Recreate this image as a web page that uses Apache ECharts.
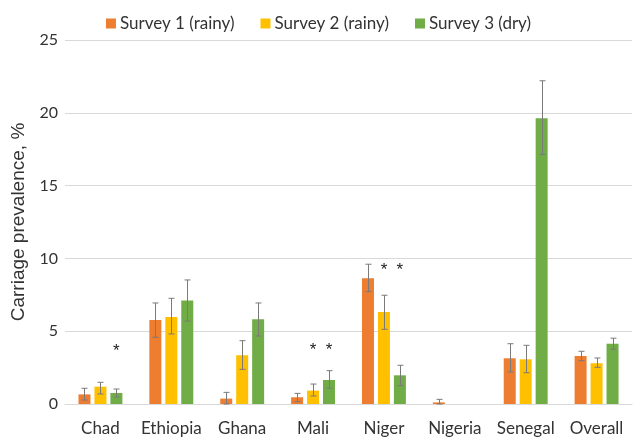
<!DOCTYPE html>
<html>
<head>
<meta charset="utf-8">
<script src="https://cdn.jsdelivr.net/npm/echarts@6/dist/echarts.min.js"></script>
<style>
html,body{margin:0;padding:0;background:#fff;}
#chart{width:637px;height:439px;}
</style>
</head>
<body>
<div id="chart"></div>
<script>
const categories = ['Chad','Ethiopia','Ghana','Mali','Niger','Nigeria','Senegal','Overall'];
const seriesNames = ['Survey 1 (rainy)','Survey 2 (rainy)','Survey 3 (dry)'];
const yTicks = [0,5,10,15,20,25];

const survey1 = [0.66, 5.77, 0.37, 0.46, 8.64, 0.11, 3.14, 3.30];
const survey1Low = [0.27, 4.58, 0.00, 0.16, 7.72, 0.00, 2.20, 2.98];
const survey1High = [1.08, 6.94, 0.80, 0.73, 9.60, 0.32, 4.14, 3.62];

const survey2 = [1.19, 5.98, 3.35, 0.92, 6.32, null, 3.07, 2.80];
const survey2Low = [0.69, 4.81, 2.38, 0.55, 5.13, null, 2.15, 2.52];
const survey2High = [1.49, 7.26, 4.35, 1.37, 7.47, null, 4.03, 3.16];

const survey3 = [0.76, 7.10, 5.82, 1.65, 1.97, null, 19.63, 4.14];
const survey3Low = [0.48, 5.70, 4.67, 1.08, 1.26, null, 17.13, 3.76];
const survey3High = [1.03, 8.52, 6.94, 2.29, 2.66, null, 22.20, 4.52];

// significance markers (value level at which the asterisk sits)
const survey1Star = [null, null, null, null, null, null, null, null];
const survey2Star = [null, null, null, 3.9, 9.4, null, null, null];
const survey3Star = [3.8, null, null, 3.9, 9.4, null, null, null];

const colors = ['#ED7D31','#FFC000','#70AD47'];
const BAR_W = 12;
const BAR_GAP = 0.33;
const values = [survey1, survey2, survey3];
const lows = [survey1Low, survey2Low, survey3Low];
const highs = [survey1High, survey2High, survey3High];
const stars = [survey1Star, survey2Star, survey3Star];

function offsetFor(idx){
  const pitch = BAR_W * (1 + BAR_GAP);
  return (idx - 1) * pitch;
}

const chart = echarts.init(document.getElementById('chart'));
const series = [];
values.forEach((v, idx) => {
  series.push({
    name: seriesNames[idx],
    type: 'bar',
    data: v,
    barWidth: BAR_W,
    barGap: (BAR_GAP*100) + '%',
    itemStyle: {color: colors[idx]},
    emphasis: {disabled: true}
  });
});
values.forEach((v, idx) => {
  series.push({
    type: 'custom',
    z: 10,
    silent: true,
    data: categories.map((c, i) => [i, lows[idx][i], highs[idx][i]]),
    renderItem: function(params, api){
      const x = api.value(0), lo = api.value(1), hi = api.value(2);
      if (lo == null || hi == null || isNaN(lo) || isNaN(hi)) return;
      const pLo = api.coord([x, lo]);
      const pHi = api.coord([x, hi]);
      const cx = Math.round(pLo[0] + offsetFor(idx)) + 0.5;
      const cap = 3;
      const style = {stroke: '#7a7a7a', lineWidth: 1};
      return {
        type: 'group',
        children: [
          {type:'line', shape:{x1:cx, y1:pLo[1], x2:cx, y2:pHi[1]}, style: style},
          {type:'line', shape:{x1:cx-cap, y1:pLo[1], x2:cx+cap, y2:pLo[1]}, style: style},
          {type:'line', shape:{x1:cx-cap, y1:pHi[1], x2:cx+cap, y2:pHi[1]}, style: style}
        ]
      };
    }
  });
});
stars.forEach((s, idx) => {
  series.push({
    type: 'custom',
    z: 11,
    silent: true,
    data: categories.map((c, i) => [i, s[i]]),
    renderItem: function(params, api){
      const x = api.value(0), y = api.value(1);
      if (y == null || isNaN(y)) return;
      const p = api.coord([x, y]);
      return {
        type: 'text',
        style: {
          text: '*', x: p[0] + offsetFor(idx), y: p[1] + 3,
          align: 'center', verticalAlign: 'middle',
          fill: '#222', font: '17px "Liberation Sans"'
        }
      };
    }
  });
});

chart.setOption({
  animation: false,
  color: colors,
  legend: {
    data: seriesNames,
    top: 10,
    left: 'center',
    itemWidth: 10,
    itemHeight: 10,
    itemGap: 26,
    icon: 'rect',
    textStyle: {fontFamily: 'Lato', fontSize: 17, color: '#333', padding: [0,0,0,-1]}
  },
  grid: {left: 65, right: 5, top: 40, bottom: 35},
  xAxis: {
    type: 'category',
    data: categories,
    axisTick: {show: false},
    axisLine: {lineStyle: {color: '#d9d9d9'}},
    axisLabel: {fontFamily: 'Lato', fontSize: 17, color: '#333', margin: 16, interval: 0}
  },
  yAxis: {
    type: 'value',
    min: yTicks[0],
    max: yTicks[yTicks.length-1],
    interval: yTicks[1] - yTicks[0],
    name: 'Carriage prevalence, %',
    nameLocation: 'middle',
    nameGap: 31,
    nameTextStyle: {fontFamily: 'Liberation Sans', fontSize: 19, color: '#333'},
    axisLine: {show: false},
    axisTick: {show: false},
    splitLine: {lineStyle: {color: '#d9d9d9'}},
    axisLabel: {fontFamily: 'Lato', fontSize: 16, color: '#333', margin: 7}
  },
  series: series
});
</script>
</body>
</html>
